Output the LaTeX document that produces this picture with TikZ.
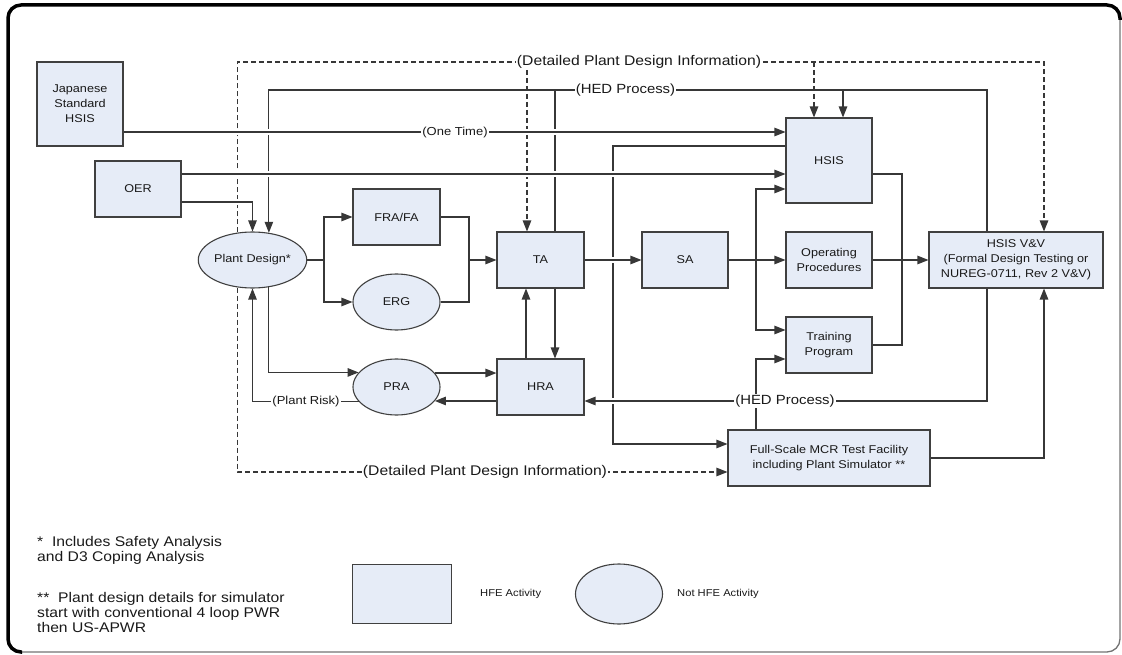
\documentclass[tikz,border=0pt]{standalone}
\usepackage{fontspec}
\setmainfont{Liberation Sans}[FakeStretch=1.12]
\usetikzlibrary{arrows.meta,calc,shapes.geometric}
\pgfdeclarelayer{background}
\pgfsetlayers{background,main}
\definecolor{boxfill}{RGB}{230,236,247}
\definecolor{edgec}{RGB}{64,64,64}
\definecolor{linec}{RGB}{55,55,55}
\begin{document}
\begin{tikzpicture}[x=1pt,y=-1pt,
  every node/.style={font=\fontsize{11.3}{15}\selectfont, text=black!90, inner sep=0pt},
  hfe/.style={draw=edgec, line width=1.1pt, fill=boxfill, rectangle, minimum width=86pt, minimum height=56pt, align=center},
  nhfe/.style={draw=edgec, line width=1.1pt, fill=boxfill, ellipse, minimum width=87pt, minimum height=56pt, align=center},
  conn/.style={draw=linec, line width=1.2pt},
  arr/.style={conn, -{Triangle[length=11pt,width=8.5pt]}},
  dsh/.style={dash pattern=on 5pt off 3pt},
  gap/.style={preaction={draw=white, line width=6pt, solid, -}},
  lbl/.style={fill=white, inner xsep=1pt, inner ysep=1pt},
  biglbl/.style={lbl, font=\fontsize{14}{17}\selectfont},
  hedlbl/.style={lbl, font=\fontsize{13.3}{16}\selectfont},
  smlbl/.style={lbl, font=\fontsize{11.6}{14}\selectfont},
  fn/.style={anchor=base west, font=\fontsize{14}{15.5}\selectfont},
  lgt/.style={anchor=west, font=\fontsize{10}{12}\selectfont},
]
\useasboundingbox (0,0) rectangle (1122,655);

% frame
\draw[black!55, line width=1.3pt, rounded corners=13pt] (8,5) rectangle (1120,652);
\draw[black, line width=3.5pt, rounded corners=13pt] (22,652) -- (8,652) -- (8,5) -- (1120,5) -- (1120,20);

% nodes
\node[hfe, minimum height=84pt] (jsh) at (80,104) {Japanese\\Standard\\HSIS};
\node[hfe] (oer) at (138,189) {OER};
\node[nhfe] (pd) at (252.5,260) {Plant Design*};
\node[hfe, minimum width=87pt] (fra) at (396.5,217) {FRA/FA};
\node[nhfe] (erg) at (396.5,302) {ERG};
\node[nhfe] (pra) at (396.5,387) {PRA};
\node[hfe, minimum width=87pt] (ta) at (540.5,260) {TA};
\node[hfe, minimum width=87pt] (hra) at (540.5,387) {HRA};
\node[hfe] (sa) at (685,260) {SA};
\node[hfe, minimum height=85pt] (hsis) at (829,160.5) {HSIS};
\node[hfe] (op) at (829,260) {Operating\\Procedures};
\node[hfe] (tp) at (829,345) {Training\\Program};
\node[hfe, minimum width=174pt] (vv) at (1016,260) {HSIS V\&V\\(Formal Design Testing or\\NUREG-0711, Rev 2 V\&V)};
\node[hfe, minimum width=202pt] (mcr) at (829,458) {Full-Scale MCR Test Facility\\including Plant Simulator **};

% legend
\node[hfe, minimum width=99pt, minimum height=59pt] (lgbox) at (402,594) {};
\node[lgt] (lgt1) at (480,594) {HFE Activity};
\node[nhfe, minimum width=87pt, minimum height=60pt] (lgell) at (619,594) {};
\node[lgt] (lgt2) at (677,594) {Not HFE Activity};

% footnotes
\node[fn] (f1) at (37,546) {*\ \ Includes Safety Analysis};
\node[fn] (f2) at (37,561) {and D3 Coping Analysis};
\node[fn] (f3) at (37,602) {**\ \ Plant design details for simulator};
\node[fn] (f4) at (37,617) {start with conventional 4 loop PWR};
\node[fn] (f5) at (37,632) {then US-APWR};

% helper points on node borders
\coordinate (vvN1) at ([xshift=-29pt]vv.north);
\coordinate (vvN2) at ([xshift=28pt]vv.north);
\coordinate (vvS1) at ([xshift=-29pt]vv.south);
\coordinate (vvS2) at ([xshift=28pt]vv.south);
\coordinate (taN1) at ([xshift=-13.5pt]ta.north);
\coordinate (taN2) at ([xshift=14.5pt]ta.north);
\coordinate (taS1) at ([xshift=-14.5pt]ta.south);
\coordinate (taS2) at ([xshift=14.5pt]ta.south);
\coordinate (hraN1) at ([xshift=-14.5pt]hra.north);
\coordinate (hraN2) at ([xshift=14.5pt]hra.north);
\coordinate (hraE) at ([yshift=-14pt]hra.east);
\coordinate (hsisN1) at ([xshift=-15pt]hsis.north);
\coordinate (hsisN2) at ([xshift=14pt]hsis.north);
\coordinate (hsisW1) at ([yshift=14.5pt]hsis.west);
\coordinate (hsisW3) at ([yshift=-28.5pt]hsis.west);
\coordinate (hsisE) at ([yshift=-13.5pt]hsis.east);
\coordinate (jshE) at ([yshift=-28pt]jsh.east);
\coordinate (oerE1) at ([yshift=15pt]oer.east);
\coordinate (oerE2) at ([yshift=-13pt]oer.east);
\coordinate (tpW1) at ([yshift=15pt]tp.west);
\coordinate (tpW2) at ([yshift=-14pt]tp.west);
\coordinate (mcrW1) at ([yshift=14pt]mcr.west);
\coordinate (mcrW2) at ([yshift=-14pt]mcr.west);
\coordinate (j1) at (324,260);
\coordinate (j2) at (469,260);
\coordinate (j3) at (756,260);
\coordinate (j4) at (902,345);
\coordinate (x613) at (613,300);

\begin{pgfonlayer}{background}
% detailed plant design information (dashed)
\draw[arr,dsh] (pd.118.8) |- (vvN2 |- 0,62) -- (vvN2);
\draw[arr,dsh] (taN1 |- 0,62) -- (taN1);
\draw[arr,dsh] (hsisN1 |- 0,62) -- (hsisN1);
\draw[arr,dsh] (pd.-118.8) |- (mcrW2);
% HED process (top)
\draw[arr] (vvN1) |- (pd.59.4 |- 0,90) -- (pd.59.4);
\draw[arr] (hsisN2 |- 0,90) -- (hsisN2);
\draw[conn] (taN2 |- 0,90) -- (taN2);
% HSIS -> MCR
\draw[arr] (hsisW1) -| (x613) |- (mcrW1);
% plant design fan-out
\draw[conn] (pd.east) -- (j1);
\draw[arr] (j1) |- (fra.west);
\draw[arr] (j1) |- (erg.west);
\draw[conn] (fra.east) -| (j2);
\draw[conn] (erg.east) -| (j2);
\draw[arr] (j2) -- (ta.west);
% TA <-> HRA
\draw[arr] (taS2) -- (hraN2);
\draw[arr] (hraN1) -- (taS1);
% PRA links
\draw[arr] (pd.-59.4) |- (pra.159.6);
\draw[arr] (pra.20.4) -- (pra.20.4 -| hra.west);
\draw[arr] (hra.west |- pra.-20.4) -- (pra.-20.4);
\draw[arr] (pra.-159.6) -| (pd.south);
% SA outputs
\draw[arr] (sa.east) -- (op.west);
\draw[arr] (j3) |- (hsisW3);
\draw[arr] (j3) |- (tpW1);
\draw[arr] (mcr.north -| j3) |- (tpW2);
% to V&V
\draw[conn] (hsisE) -| (j4) -- (tp.east);
\draw[arr] (op.east) -- (vv.west);
\draw[arr] (mcr.east) -| (vvS2);
% lines drawn over others (with gaps)
\draw[arr,gap] (jshE) -- (jshE -| hsis.west);
\draw[arr,gap] (oerE1) -- (oerE1 -| hsis.west);
\draw[arr,gap] (oerE2) -| (pd.north);
\draw[arr,gap] (ta.east) -- (sa.west);
\draw[arr,gap] (vvS1) |- (hraE);
\end{pgfonlayer}

% connector labels
\node[biglbl] (l1) at (639,62) {(Detailed Plant Design Information)};
\node[hedlbl] (l2) at (625.5,90) {(HED Process)};
\node[smlbl] (l3) at (455,132) {(One Time)};
\node[hedlbl] (l4) at (785,401) {(HED Process)};
\node[smlbl] (l5) at (306,401) {(Plant Risk)};
\node[biglbl] (l6) at (485,472) {(Detailed Plant Design Information)};
\end{tikzpicture}
\end{document}
